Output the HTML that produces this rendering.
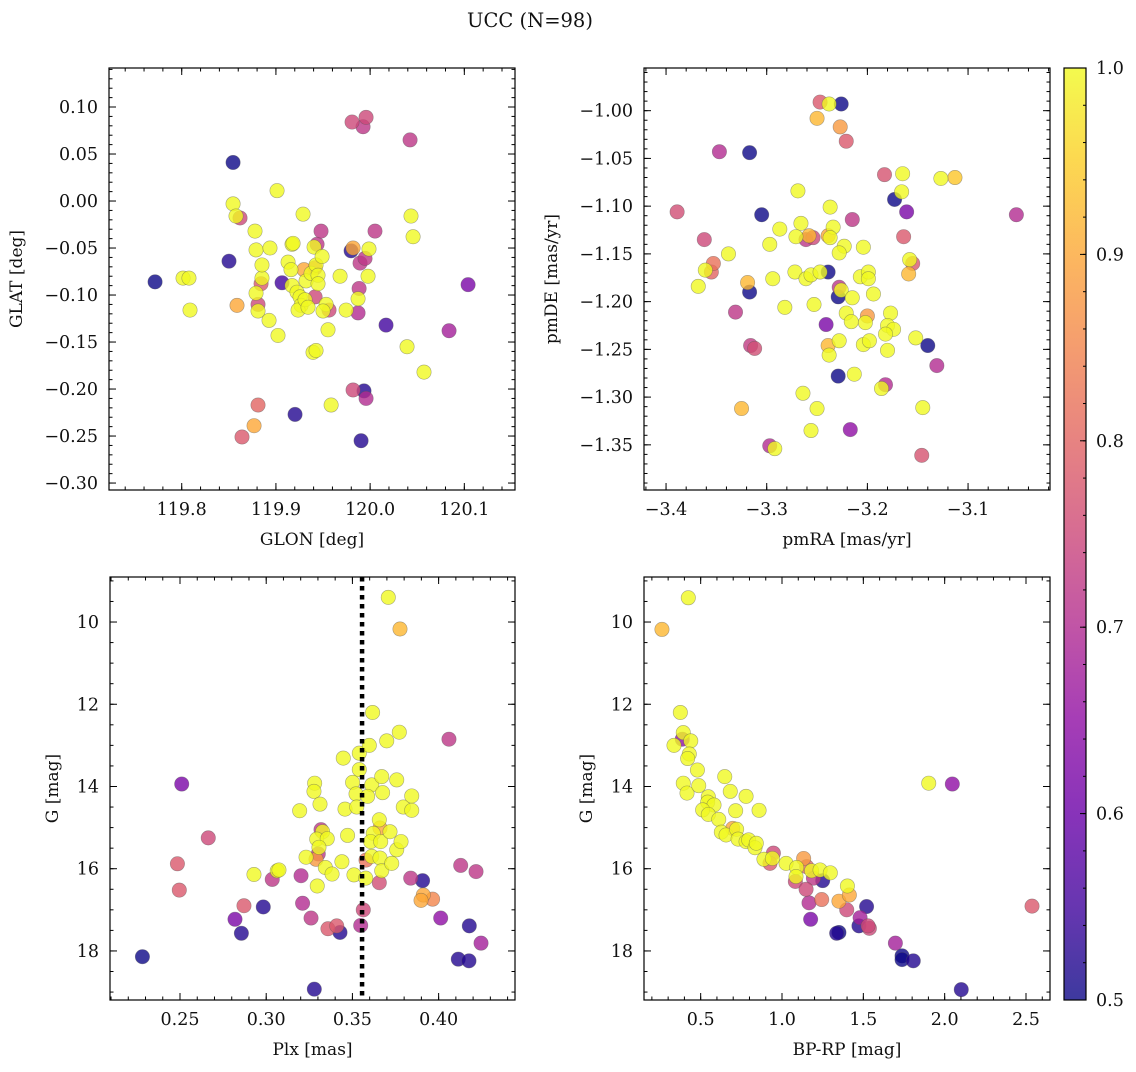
<!DOCTYPE html>
<html><head><meta charset="utf-8"><style>
body{margin:0;background:#fff;}
svg text{font-family:"DejaVu Serif","Liberation Serif",serif;fill:#111;}
</style></head><body>
<svg id="fig" width="1136" height="1067" viewBox="0 0 1136 1067" xmlns="http://www.w3.org/2000/svg">
<text x="530" y="27" font-size="19.5" text-anchor="middle">UCC (N=98)</text>
<defs><linearGradient id="cbg" x1="0" y1="1" x2="0" y2="0">
<stop offset="0" stop-color="#0d0887"/><stop offset="0.1" stop-color="#41049d"/><stop offset="0.2" stop-color="#6a00a8"/><stop offset="0.3" stop-color="#8f0da4"/><stop offset="0.4" stop-color="#b12a90"/><stop offset="0.5" stop-color="#cc4778"/><stop offset="0.6" stop-color="#e16462"/><stop offset="0.7" stop-color="#f2844b"/><stop offset="0.8" stop-color="#fca636"/><stop offset="0.9" stop-color="#fcce25"/><stop offset="1" stop-color="#f0f921"/>
</linearGradient></defs>
</svg>
<script>
// ---- Panel 1: GLON / GLAT ----
const p1x=[119.7717,119.8545,119.8545,119.8502,119.8014,119.8077,119.8088,119.8576,119.8619,119.8587,119.8778,119.8789,119.8937,119.9012,119.8852,119.8842,119.8789,119.8810,119.8810,119.8852,119.8927,119.9022,119.9065,119.9129,119.9160,119.9171,119.9182,119.9288,119.9171,119.9224,119.9256,119.9267,119.9235,119.9309,119.9341,119.9320,119.9298,119.9373,119.9416,119.9426,119.9447,119.9405,119.9437,119.9490,119.9447,119.9533,119.9564,119.9500,119.9416,119.9479,119.9394,119.9426,119.9553,119.9586,119.9681,119.9745,119.9798,119.9819,119.9893,119.9946,119.9978,119.9883,119.9872,119.9872,119.9808,119.9957,119.9925,120.0052,119.9988,120.0169,119.9819,119.9935,119.9957,119.9904,119.9203,119.8810,119.8768,119.8640,120.0424,120.0434,120.0456,120.0392,120.0572,120.0838,120.1040];
const p1y=[-0.086,-0.003,0.041,-0.064,-0.082,-0.082,-0.116,-0.016,-0.018,-0.111,-0.032,-0.052,-0.050,0.011,-0.082,-0.088,-0.098,-0.110,-0.117,-0.068,-0.127,-0.143,-0.087,-0.065,-0.073,-0.046,-0.045,-0.014,-0.090,-0.097,-0.102,-0.111,-0.116,-0.105,-0.113,-0.085,-0.073,-0.077,-0.071,-0.068,-0.079,-0.049,-0.046,-0.059,-0.088,-0.110,-0.116,-0.117,-0.102,-0.032,-0.161,-0.159,-0.137,-0.217,-0.080,-0.116,-0.053,-0.050,-0.066,-0.061,-0.080,-0.093,-0.104,-0.119,0.084,0.089,0.079,-0.032,-0.051,-0.132,-0.201,-0.202,-0.210,-0.255,-0.227,-0.217,-0.239,-0.251,0.065,-0.016,-0.038,-0.155,-0.182,-0.138,-0.089];
const p1c=[0.5,1,0.5,0.52,1,1,1,1,0.75,0.9,1,1,1,1,1,0.78,1,0.75,1,1,1,1,0.55,1,1,1,1,1,1,1,1,1,1,1,1,1,0.9,1,0.8,1,1,1,0.72,1,1,1,0.75,1,0.75,0.72,1,1,1,1,1,1,0.52,0.9,0.72,0.72,1,0.72,1,0.7,0.75,0.75,0.72,0.72,1,0.55,0.75,0.52,0.7,0.52,0.52,0.8,0.9,0.78,0.72,1,1,1,1,0.68,0.62];
// ---- Panel 2: pmRA / pmDE ----
const p2x=[-3.389,-3.347,-3.317,-3.305,-3.362,-3.338,-3.353,-3.355,-3.361,-3.368,-3.319,-3.317,-3.331,-3.316,-3.312,-3.325,-3.297,-3.292,-3.287,-3.297,-3.294,-3.282,-3.269,-3.266,-3.271,-3.261,-3.254,-3.258,-3.272,-3.261,-3.256,-3.247,-3.239,-3.253,-3.264,-3.250,-3.256,-3.247,-3.238,-3.226,-3.250,-3.227,-3.221,-3.237,-3.234,-3.239,-3.237,-3.223,-3.228,-3.215,-3.228,-3.229,-3.226,-3.215,-3.241,-3.221,-3.216,-3.228,-3.239,-3.238,-3.229,-3.213,-3.217,-3.204,-3.207,-3.199,-3.199,-3.194,-3.200,-3.202,-3.204,-3.198,-3.183,-3.165,-3.166,-3.173,-3.161,-3.164,-3.158,-3.155,-3.159,-3.177,-3.180,-3.174,-3.182,-3.180,-3.182,-3.186,-3.152,-3.140,-3.131,-3.145,-3.146,-3.127,-3.113,-3.052];
const p2y=[-1.106,-1.043,-1.044,-1.109,-1.135,-1.150,-1.160,-1.169,-1.167,-1.184,-1.180,-1.190,-1.211,-1.246,-1.249,-1.312,-1.351,-1.354,-1.124,-1.140,-1.176,-1.206,-1.084,-1.118,-1.132,-1.135,-1.133,-1.131,-1.169,-1.176,-1.172,-1.169,-1.169,-1.203,-1.296,-1.312,-1.335,-0.991,-0.993,-0.993,-1.008,-1.017,-1.032,-1.101,-1.122,-1.131,-1.133,-1.142,-1.149,-1.114,-1.185,-1.195,-1.188,-1.196,-1.224,-1.212,-1.221,-1.241,-1.246,-1.256,-1.278,-1.276,-1.334,-1.143,-1.174,-1.169,-1.176,-1.192,-1.215,-1.222,-1.245,-1.241,-1.067,-1.066,-1.085,-1.093,-1.106,-1.132,-1.156,-1.160,-1.171,-1.212,-1.225,-1.229,-1.234,-1.251,-1.287,-1.291,-1.238,-1.246,-1.267,-1.311,-1.361,-1.071,-1.070,-1.109];
const p2c=[0.76,0.7,0.5,0.5,0.75,1,0.82,0.8,1,1,0.92,0.5,0.72,0.73,0.76,0.92,0.7,1,1,1,1,1,1,1,1,0.72,0.75,0.92,1,1,1,1,0.5,1,1,1,1,0.78,1,0.5,0.92,0.88,0.78,1,1,0.9,1,1,1,0.72,0.72,0.5,1,1,0.62,1,1,1,0.92,1,0.5,1,0.65,1,1,1,1,1,0.88,1,1,1,0.77,1,1,0.5,0.62,0.78,1,0.78,0.92,1,1,1,1,1,0.7,1,1,0.5,0.7,1,0.77,1,0.94,0.7];
// ---- Panel 3: Plx / G ----
const p3x=[0.2282,0.2510,0.2485,0.2496,0.2664,0.2819,0.2856,0.2871,0.2929,0.2983,0.3035,0.3064,0.3074,0.3194,0.3202,0.3211,0.3260,0.3231,0.3281,0.3277,0.3312,0.3318,0.3327,0.3293,0.3354,0.3306,0.3302,0.3289,0.3343,0.3382,0.3296,0.3279,0.3358,0.3409,0.3428,0.3447,0.3457,0.3472,0.3439,0.3501,0.3509,0.3521,0.3525,0.3540,0.3540,0.3548,0.3563,0.3579,0.3577,0.3598,0.3617,0.3612,0.3588,0.3621,0.3606,0.3612,0.3656,0.3656,0.3660,0.3664,0.3660,0.3670,0.3675,0.3670,0.3699,0.3708,0.3718,0.3728,0.3757,0.3757,0.3772,0.3776,0.3782,0.3795,0.3844,0.3844,0.3838,0.3907,0.3911,0.3898,0.3965,0.4012,0.4060,0.4128,0.4178,0.4217,0.4114,0.4176,0.4246];
const p3y=[18.14,13.94,15.88,16.52,15.25,17.23,17.57,16.90,16.14,16.93,16.26,16.05,16.03,14.59,16.17,16.84,17.20,15.72,13.92,14.12,14.43,15.05,15.10,15.28,15.27,15.48,15.64,15.77,15.97,16.13,16.42,18.93,17.46,17.39,17.55,13.31,14.55,15.19,15.83,13.90,16.15,14.18,14.50,13.19,13.59,17.38,17.00,15.79,16.23,13.00,12.20,13.96,14.24,15.14,15.34,15.70,16.34,14.81,15.01,15.34,15.74,16.05,14.15,13.76,12.89,9.40,15.10,15.87,15.54,13.84,12.68,10.17,15.34,14.50,14.23,14.58,16.23,16.29,16.64,16.77,16.74,17.20,12.85,15.92,17.39,16.07,18.20,18.24,17.81];
const p3c=[0.5,0.62,0.78,0.78,0.75,0.62,0.52,0.78,1,0.52,0.72,1,1,1,0.7,0.7,0.72,1,1,1,1,0.72,1,1,1,1,0.72,0.88,1,1,1,0.52,0.78,0.78,0.52,1,1,1,1,1,1,1,1,1,1,0.7,0.75,0.82,1,1,1,1,1,1,1,1,0.76,1,0.9,1,1,1,1,1,1,1,1,1,1,1,1,0.92,1,1,1,1,0.72,0.52,0.9,0.9,0.85,0.65,0.72,0.72,0.52,0.72,0.52,0.52,0.68];
const p3line=[0.3556];
// ---- Panel 4: BP-RP / G ----
const p4x=[0.262,0.424,0.375,0.393,0.387,0.439,0.336,0.430,0.420,0.480,0.393,0.416,0.488,0.547,0.543,0.582,0.512,0.547,0.611,0.648,0.682,0.779,0.715,0.859,0.627,0.656,0.697,0.721,0.730,0.779,0.795,0.834,0.842,0.889,0.926,0.947,0.941,1.025,1.090,1.133,1.152,1.086,1.082,1.182,1.193,1.250,1.234,1.297,1.148,1.166,1.176,1.244,1.350,1.414,1.402,1.398,1.520,1.350,1.336,1.480,1.473,1.537,1.529,1.697,1.738,1.738,1.807,2.102,1.902,2.047,2.537];
const p4y=[10.18,9.41,12.20,12.69,12.85,12.89,13.00,13.21,13.32,13.60,13.92,14.16,13.98,14.25,14.38,14.45,14.57,14.68,14.80,13.76,14.12,14.24,14.59,14.58,15.11,15.18,15.02,15.04,15.28,15.34,15.30,15.49,15.38,15.77,15.87,15.62,15.75,15.87,15.97,15.75,15.95,16.19,16.31,16.05,16.23,16.29,16.03,16.10,16.50,16.83,17.23,16.75,16.79,16.64,16.42,17.00,16.92,17.55,17.57,17.19,17.39,17.45,17.39,17.81,18.12,18.21,18.24,18.94,13.92,13.94,16.91];
const p4c=[0.92,1,1,1,0.65,1,1,1,1,1,1,1,1,1,1,1,1,1,1,1,1,1,1,1,1,1,0.9,1,1,1,1,1,1,1,0.78,0.75,1,1,1,0.88,0.8,1,0.75,1,0.72,0.52,1,1,0.75,0.7,0.62,0.82,0.9,0.9,1,0.75,0.52,0.5,0.52,0.68,0.52,0.75,0.75,0.68,0.5,0.5,0.52,0.52,1,0.65,0.78];
// ---- Colorbar ticks ----
const cbTicks=[0.5,0.6,0.7,0.8,0.9,1.0];

const NS="http://www.w3.org/2000/svg";
const svg=document.getElementById('fig');
function mk(tag,attrs,parent){const e=document.createElementNS(NS,tag);for(const k in attrs)e.setAttribute(k,attrs[k]);(parent||svg).appendChild(e);return e;}
const stops=[[0,[13,8,135]],[0.1,[65,4,157]],[0.2,[106,0,168]],[0.3,[143,13,164]],[0.4,[177,42,144]],[0.5,[204,71,120]],[0.6,[225,100,98]],[0.7,[242,132,75]],[0.8,[252,166,54]],[0.9,[252,206,37]],[1,[240,249,33]]];
function cmap(v){let t=Math.max(0,Math.min(1,(v-0.5)/0.5));for(let i=1;i<stops.length;i++){if(t<=stops[i][0]){const a=stops[i-1],b=stops[i];const f=(t-a[0])/(b[0]-a[0]);const c=a[1].map((x,j)=>Math.round(x+(b[1][j]-x)*f));return `rgb(${c[0]},${c[1]},${c[2]})`;}}return 'rgb(240,249,33)';}
function fmt(v,d){const s=Math.abs(v).toFixed(d);return (v<-1e-9?'\u2212':'')+s;}
function range(a,b,s){const r=[];for(let v=a;v<=b+s*1e-6;v+=s)r.push(+v.toFixed(6));return r;}

function panel(o){
  const g=mk('g',{});
  
  
  const X=v=>o.x0+(v-o.xd[0])/(o.xd[1]-o.xd[0])*(o.x1-o.x0);
  const Y=v=>o.y0+(v-o.yd[0])/(o.yd[1]-o.yd[0])*(o.y1-o.y0);
  const pg=mk('g',{},g);
  
  
  const idx=o.xs.map((_,i)=>i).sort((a,b)=>o.cs[a]-o.cs[b]);
  idx.forEach(i=>{
    const c=mk('circle',{cx:X(o.xs[i]),cy:Y(o.ys[i]),r:7.2,fill:cmap(o.cs[i]),'fill-opacity':0.8,stroke:'#555','stroke-opacity':0.5,'stroke-width':0.6},pg);
    
    
  });
  if(o.vline){o.vline.forEach(v=>{const l=mk('line',{x1:X(v),x2:X(v),y1:o.y0,y2:o.y1,stroke:'#000','stroke-width':4.5,'stroke-dasharray':'4.5 4.5'},g);
    
    });}
  const f=mk('rect',{x:o.x0,y:Math.min(o.y0,o.y1),width:o.x1-o.x0,height:Math.abs(o.y1-o.y0),fill:'none',stroke:'#000','stroke-width':1.2},g);
  
  
  const top=Math.min(o.y0,o.y1),bot=Math.max(o.y0,o.y1);
  const tk=(x1,y1,x2,y2)=>mk('line',{x1,y1,x2,y2,stroke:'#000','stroke-width':1},g);
  o.xminor.forEach(v=>{const x=X(v);if(x<o.x0||x>o.x1)return;tk(x,bot,x,bot-3.5);tk(x,top,x,top+3.5);});
  o.yminor.forEach(v=>{const y=Y(v);if(y<top||y>bot)return;tk(o.x0,y,o.x0+3.5,y);tk(o.x1,y,o.x1-3.5,y);});
  o.xmajor.forEach(v=>{const x=X(v);tk(x,bot,x,bot-7);tk(x,top,x,top+7);
    const t=mk('text',{x:x,y:bot+25,'font-size':17.5,'text-anchor':'middle'},g);t.textContent=fmt(v,o.xdec);
    
    });
  o.ymajor.forEach(v=>{const y=Y(v);tk(o.x0,y,o.x0+7,y);tk(o.x1,y,o.x1-7,y);
    const t=mk('text',{x:o.x0-11,y:y+6,'font-size':17.5,'text-anchor':'end'},g);t.textContent=fmt(v,o.ydec);
    
    });
  const xl=mk('text',{x:(o.x0+o.x1)/2,y:bot+55,'font-size':17,'text-anchor':'middle'},g);xl.textContent=o.xlabel;
  
  
  const cy=(top+bot)/2;
  const yl=mk('text',{x:o.ylx,y:cy,'font-size':17,'text-anchor':'middle',transform:`rotate(-90 ${o.ylx} ${cy})`},g);yl.textContent=o.ylabel;
  
  
}

panel({name:'glon-glat-panel',x0:109,x1:515,y0:68,y1:490,xd:[119.7228,120.1538],yd:[0.1415,-0.3074],xs:p1x,ys:p1y,cs:p1c,
  xmajor:range(119.8,120.1,0.1),xminor:range(119.72,120.16,0.02),ymajor:range(-0.30,0.10,0.05),yminor:range(-0.30,0.14,0.01),xdec:1,ydec:2,xlabel:'GLON [deg]',ylabel:'GLAT [deg]',ylx:22});
panel({name:'proper-motion-panel',x0:644,x1:1050,y0:68,y1:490,xd:[-3.4219,-3.0186],yd:[-0.9553,-1.3973],xs:p2x,ys:p2y,cs:p2c,
  xmajor:range(-3.4,-3.1,0.1),xminor:range(-3.42,-3.02,0.02),ymajor:range(-1.35,-1.0,0.05),yminor:range(-1.39,-0.96,0.01),xdec:1,ydec:2,xlabel:'pmRA [mas/yr]',ylabel:'pmDE [mas/yr]',ylx:557});
panel({name:'parallax-magnitude-panel',x0:110,x1:515,y0:577,y1:1000,xd:[0.2094,0.4443],yd:[8.905,19.193],xs:p3x,ys:p3y,cs:p3c,vline:p3line,
  xmajor:range(0.25,0.40,0.05),xminor:range(0.21,0.44,0.01),ymajor:range(10,18,2),yminor:range(9,19,0.5),xdec:2,ydec:0,xlabel:'Plx [mas]',ylabel:'G [mag]',ylx:58});
panel({name:'color-magnitude-panel',x0:644,x1:1050,y0:577,y1:1000,xd:[0.1516,2.6475],yd:[8.905,19.193],xs:p4x,ys:p4y,cs:p4c,
  xmajor:range(0.5,2.5,0.5),xminor:range(0.2,2.6,0.1),ymajor:range(10,18,2),yminor:range(9,19,0.5),xdec:1,ydec:0,xlabel:'BP-RP [mag]',ylabel:'G [mag]',ylx:592});

const cb=mk('g',{});


const cbr=mk('rect',{x:1064,y:68,width:22,height:932,fill:'url(#cbg)','fill-opacity':0.8,stroke:'#000','stroke-width':1.2},cb);


const CY=v=>1000-(v-0.5)/0.5*932;
range(0.5,1.0,0.02).forEach(v=>{mk('line',{x1:1086,x2:1083,y1:CY(v),y2:CY(v),stroke:'#000','stroke-width':1},cb);});
cbTicks.forEach(v=>{const y=CY(v);mk('line',{x1:1086,x2:1080,y1:y,y2:y,stroke:'#000','stroke-width':1},cb);
  const t=mk('text',{x:1096,y:y+6,'font-size':17.5},cb);t.textContent=v.toFixed(1);
  
  });
</script>
</body></html>
